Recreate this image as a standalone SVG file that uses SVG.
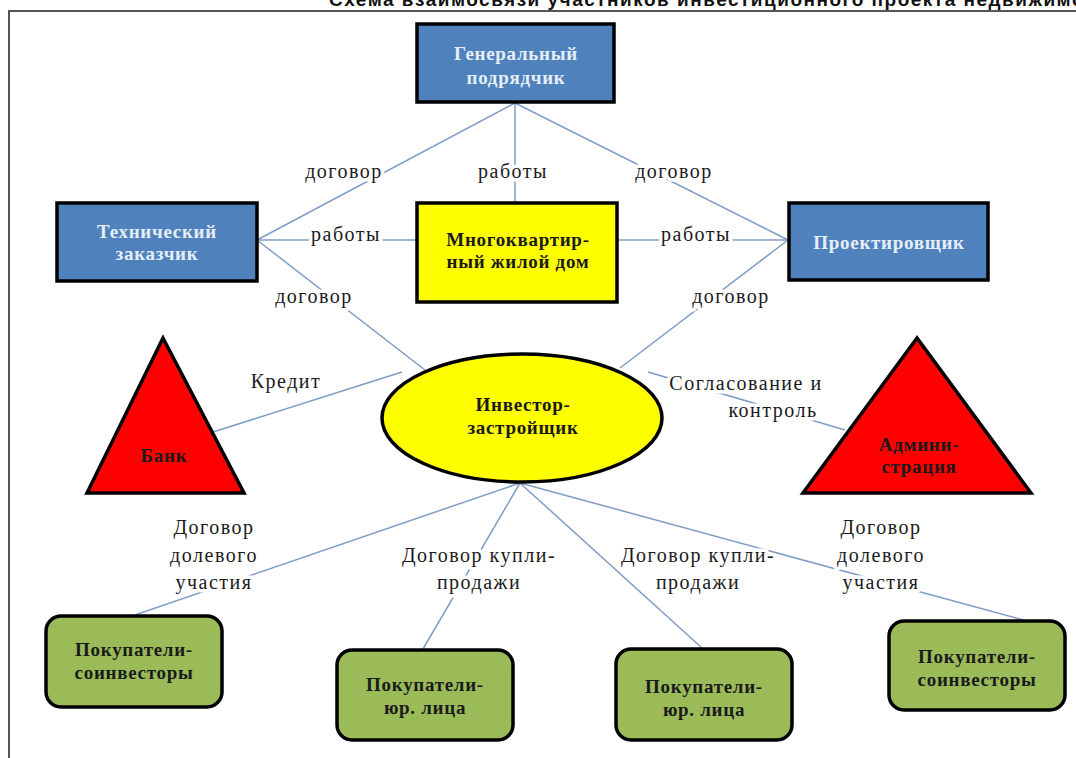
<svg xmlns="http://www.w3.org/2000/svg" width="1076" height="758" viewBox="0 0 1076 758">
<style>
.blue{fill:#4F81BD;stroke:#000;stroke-width:3.5}
.yel{fill:#FFFF00;stroke:#000;stroke-width:3.5}
.red{fill:#FF0000;stroke:#000;stroke-width:3.5;stroke-linejoin:miter}
.grn{fill:#9BBB59;stroke:#000;stroke-width:3.5}
.nt{font-family:"Liberation Serif","Times New Roman",serif;font-weight:bold;font-size:19px;letter-spacing:0.7px;text-anchor:middle}
.wt{fill:#E6EEF8}
.dk{fill:#1a1a1a}
.lbl{font-family:"Liberation Serif","Times New Roman",serif;font-size:20px;letter-spacing:1.5px;text-anchor:middle;fill:#1a1a1a;stroke:#fff;stroke-width:7;paint-order:stroke;stroke-linejoin:round}
.con line{stroke:#7F9CC6;stroke-width:1.5}
.title{font-family:"Liberation Sans",Arial,sans-serif;font-weight:bold;font-size:19px;letter-spacing:1.5px;fill:#111}
</style>
<rect width="1076" height="758" fill="#fff"/>
<text class="title" x="329" y="6">Схема взаимосвязи участников инвестиционного проекта недвижимости</text>
<path d="M9 758 V11 H1076" fill="none" stroke="#555" stroke-width="2"/>
<g id="connectors" class="con">
<line x1="515" y1="103" x2="257" y2="240"/>
<line x1="515" y1="103" x2="515" y2="202"/>
<line x1="515" y1="103" x2="788" y2="240"/>
<line x1="257" y1="240" x2="416" y2="240"/>
<line x1="617" y1="240" x2="788" y2="240"/>
<line x1="257" y1="240" x2="425" y2="370"/>
<line x1="788" y1="240" x2="620" y2="368"/>
<line x1="213" y1="432" x2="402" y2="372"/>
<line x1="648" y1="372" x2="845" y2="430"/>
<line x1="520" y1="483" x2="135" y2="615"/>
<line x1="520" y1="483" x2="423" y2="649"/>
<line x1="520" y1="483" x2="702" y2="648"/>
<line x1="520" y1="483" x2="1027" y2="621"/>
</g>
<g id="labels">
<text class="lbl" x="344" y="178">договор</text>
<text class="lbl" x="513" y="178">работы</text>
<text class="lbl" x="674" y="178">договор</text>
<text class="lbl" x="346" y="241">работы</text>
<text class="lbl" x="696" y="241">работы</text>
<text class="lbl" x="314" y="303">договор</text>
<text class="lbl" x="731" y="303">договор</text>
<text class="lbl" x="286" y="388">Кредит</text>
<text class="lbl" x="746" y="390">Согласование и</text>
<text class="lbl" x="773" y="417">контроль</text>
<text class="lbl" x="214" y="534">Договор</text>
<text class="lbl" x="214" y="562">долевого</text>
<text class="lbl" x="214" y="589">участия</text>
<text class="lbl" x="479" y="562">Договор купли-</text>
<text class="lbl" x="479" y="589">продажи</text>
<text class="lbl" x="698" y="562">Договор купли-</text>
<text class="lbl" x="698" y="589">продажи</text>
<text class="lbl" x="881" y="534">Договор</text>
<text class="lbl" x="881" y="562">долевого</text>
<text class="lbl" x="881" y="589">участия</text>
</g>
<g id="gen-podryadchik">
<rect class="blue" x="417" y="24" width="197" height="78"/>
<text class="nt wt" x="516" y="60">Генеральный</text>
<text class="nt wt" x="516" y="84">подрядчик</text>
</g>
<g id="tech-zakazchik">
<rect class="blue" x="57" y="203" width="200" height="78"/>
<text class="nt wt" x="157" y="238">Технический</text>
<text class="nt wt" x="157" y="260">заказчик</text>
</g>
<g id="mnogokvartirny">
<rect class="yel" x="417" y="203" width="200" height="99"/>
<text class="nt dk" x="518" y="246">Многоквартир-</text>
<text class="nt dk" x="518" y="268">ный жилой дом</text>
</g>
<g id="proektirovshchik">
<rect class="blue" x="789" y="203" width="199" height="77"/>
<text class="nt wt" x="889" y="249">Проектировщик</text>
</g>
<g id="bank">
<polygon class="red" points="163,338 87,493 244,493"/>
<text class="nt dk" x="164" y="462">Банк</text>
</g>
<g id="administratsiya">
<polygon class="red" points="917,338 803,493 1031,493"/>
<text class="nt dk" x="919" y="451">Админи-</text>
<text class="nt dk" x="919" y="473">страция</text>
</g>
<g id="investor">
<ellipse class="yel" cx="522" cy="418" rx="140" ry="64"/>
<text class="nt dk" x="523" y="411">Инвестор-</text>
<text class="nt dk" x="523" y="434">застройщик</text>
</g>
<g id="pokup-soinv-1">
<rect class="grn" x="46" y="616" width="176" height="91" rx="15"/>
<text class="nt dk" x="134" y="656">Покупатели-</text>
<text class="nt dk" x="134" y="679">соинвесторы</text>
</g>
<g id="pokup-yur-1">
<rect class="grn" x="337" y="650" width="176" height="90" rx="15"/>
<text class="nt dk" x="425" y="691">Покупатели-</text>
<text class="nt dk" x="425" y="714">юр. лица</text>
</g>
<g id="pokup-yur-2">
<rect class="grn" x="616" y="649" width="176" height="91" rx="15"/>
<text class="nt dk" x="704" y="693">Покупатели-</text>
<text class="nt dk" x="704" y="716">юр. лица</text>
</g>
<g id="pokup-soinv-2">
<rect class="grn" x="889" y="621" width="176" height="89" rx="15"/>
<text class="nt dk" x="977" y="663">Покупатели-</text>
<text class="nt dk" x="977" y="686">соинвесторы</text>
</g>
</svg>
